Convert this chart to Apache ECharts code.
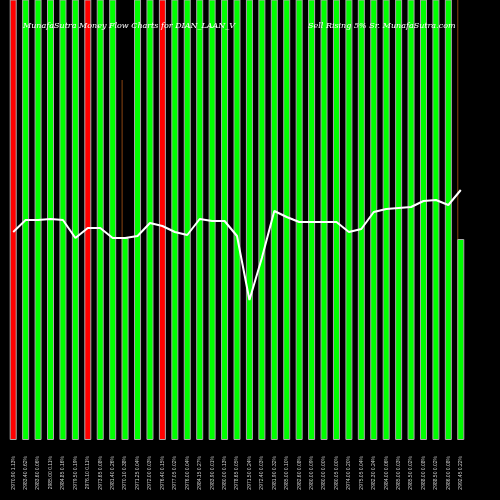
<!DOCTYPE html><html><head><meta charset="utf-8"><script src="https://cdn.jsdelivr.net/npm/echarts@6/dist/echarts.min.js"></script></head><body style="margin:0;background:#000"><div id="c" style="width:500px;height:500px"></div><script>
var categories=["2970.90 1.13%","2983.40 0.62%","2983.60 0.06%","2985.00 0.11%","2984.85 0.16%","2979.50 0.19%","2976.10 0.11%","2973.65 0.08%","2981.40 0.26%","2970.10 0.38%","2971.25 0.04%","2972.00 0.03%","2976.40 0.15%","2977.05 0.02%","2976.00 0.04%","2984.15 0.27%","2983.90 0.01%","2980.00 0.13%","2978.65 0.05%","2971.50 0.24%","2972.40 0.03%","2981.90 0.32%","2985.00 0.10%","2982.60 0.08%","2980.00 0.09%","2980.00 0.00%","2980.05 0.00%","2974.00 0.20%","2975.05 0.04%","2982.30 0.24%","2984.00 0.06%","2985.00 0.03%","2985.50 0.02%","2988.00 0.08%","2988.50 0.02%","2986.00 0.08%","2992.45 0.22%"];
var volumes=[500,500,500,500,500,500,500,500,500,202,500,500,500,500,500,500,500,500,500,500,500,500,500,500,500,500,500,500,500,500,500,500,500,500,500,500,201];
var wicks=[0,0,0,0,0,0,0,0,0,360,0,0,0,0,0,0,0,0,0,0,0,0,0,0,0,0,0,0,0,0,0,0,0,0,0,0,500];
var redIdx=[0,6,12];
var flow=[208,220,220,221,220,202,212,212,202,202,204,217,214,208,205,221,219,219,204,140,182,229,223,218,218,218,218,208,211,228,231,232,233,239,240,235,250];
var ch=echarts.init(document.getElementById('c'));
var ts={color:'#fff',fontFamily:'DejaVu Serif',fontStyle:'italic',fontWeight:'normal',fontSize:8};
ch.setOption({backgroundColor:'#000',animation:false,
grid:{left:7,right:33,top:0,bottom:60},
title:[{text:'MunafaSutra Money Flow Charts for DIAN_LAAN_V',left:18,top:17,textStyle:ts},
{text:'Sell Rising 5% Sr. MunafaSutra.com',left:303,top:17,textStyle:ts}],
xAxis:{type:'category',data:categories,axisLine:{show:false},axisTick:{show:false},axisLabel:{rotate:90,color:'#ccc',fontSize:5,interval:0,margin:16}},
yAxis:[{type:'value',min:0,max:440,show:false},{type:'value',min:0,max:440,show:false}],
series:[{type:'bar',data:wicks,barWidth:1,barGap:'-100%',itemStyle:{color:'#8b4513'},z:1},
{type:'bar',data:volumes.map(function(v,i){return {value:v,itemStyle:{color:redIdx.indexOf(i)>=0?'#ff0000':'#00ff00'}};}),barWidth:7,barGap:'-100%',itemStyle:{borderColor:'#aaa',borderWidth:1},z:2},
{type:'line',yAxisIndex:1,data:flow,symbol:'none',lineStyle:{color:'#fff',width:2},z:3}]});
</script></body></html>
